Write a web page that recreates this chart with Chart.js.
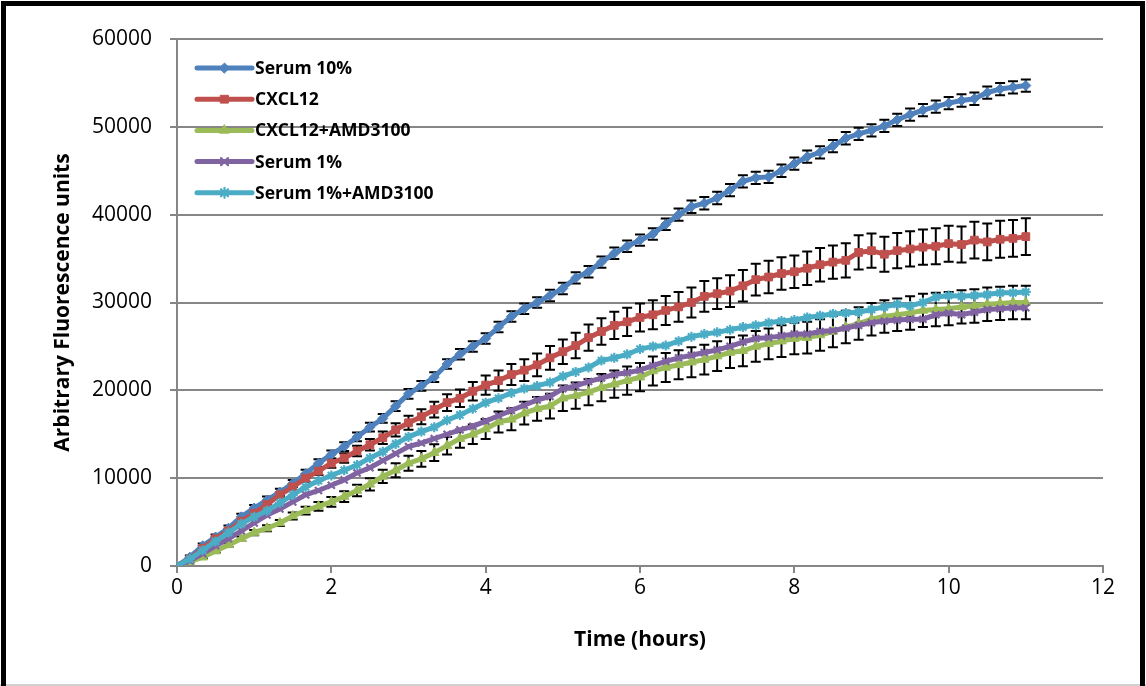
<!DOCTYPE html>
<html>
<head>
<meta charset="utf-8">
<script src="https://cdn.jsdelivr.net/npm/chart.js@4.4.1/dist/chart.umd.min.js"></script>
<style>
  html, body { margin: 0; padding: 0; background: #fff; }
  #wrap { width: 1146px; height: 686px; }
</style>
</head>
<body>
<div id="wrap"><canvas id="fluoChart" width="1146" height="686"></canvas></div>
<script>
// Time points, minutes (one reading every 10 min)
const minutes = [0, 10, 20, 30, 40, 50, 60, 70, 80, 90, 100, 110, 120, 130, 140, 150, 160, 170, 180,
  190, 200, 210, 220, 230, 240, 250, 260, 270, 280, 290, 300, 310, 320, 330, 340, 350, 360,
  370, 380, 390, 400, 410, 420, 430, 440, 450, 460, 470, 480, 490, 500, 510, 520, 530, 540,
  550, 560, 570, 580, 590, 600, 610, 620, 630, 640, 650, 660];

const seriesNames = ['Serum 10%', 'CXCL12', 'CXCL12+AMD3100', 'Serum 1%', 'Serum 1%+AMD3100'];

const serum10 = [0, 1000, 2300, 3300, 4300, 5600, 6600, 7500, 8400, 9400, 10500, 11700, 12700,
  13600, 14700, 15800, 16800, 18200, 19600, 20500, 21500, 23000, 24100, 25000, 25900,
  27200, 28400, 29300, 30000, 30800, 31600, 32800, 33500, 34600, 35600, 36400, 37100,
  37800, 38900, 40000, 40900, 41300, 41900, 42800, 43800, 44200, 44300, 45000, 45800,
  46600, 47100, 47800, 48700, 49200, 49600, 50100, 50800, 51400, 51900, 52300, 52700,
  53000, 53200, 53900, 54300, 54500, 54700];

const cxcl12 = [0, 800, 2000, 3100, 4000, 5100, 6000, 7000, 8100, 9000, 10000, 10800, 11700,
  12300, 13100, 13800, 14600, 15500, 16300, 17000, 17800, 18600, 19100, 19900, 20600,
  21100, 21800, 22300, 22900, 23700, 24400, 25100, 26000, 26700, 27400, 27800, 28300,
  28600, 29100, 29500, 30000, 30700, 31000, 31300, 31900, 32600, 32900, 33300, 33500,
  33900, 34300, 34600, 34800, 35700, 35900, 35500, 35900, 36100, 36300, 36400, 36700,
  36600, 37100, 36900, 37200, 37300, 37500];

const cxcl12Amd = [0, 500, 1000, 1700, 2400, 3100, 3800, 4300, 4900, 5700, 6300, 6800, 7300,
  7900, 8600, 9300, 10200, 10900, 11700, 12200, 12900, 13700, 14500, 15000, 15600,
  16400, 16700, 17400, 17900, 18200, 19100, 19400, 19800, 20300, 20700, 21100, 21500,
  22200, 22600, 22900, 23200, 23500, 23900, 24300, 24500, 25000, 25300, 25600, 25900,
  26000, 26300, 26700, 27200, 27600, 28100, 28400, 28600, 28800, 29100, 29200, 29300,
  29500, 29600, 29800, 29900, 30000, 30000];

const serum1 = [0, 600, 1400, 2300, 3100, 4000, 4900, 5800, 6500, 7300, 8100, 8600, 9200,
  9800, 10600, 11200, 12000, 12800, 13600, 14000, 14500, 15000, 15500, 15900, 16500,
  17100, 17700, 18300, 18900, 19300, 20200, 20500, 21000, 21400, 21800, 22000, 22300,
  22800, 23300, 23700, 24000, 24300, 24600, 25000, 25500, 25900, 26000, 26200, 26400,
  26400, 26700, 26800, 27100, 27400, 27700, 27900, 28000, 28100, 28100, 28600, 28800,
  28600, 28900, 29200, 29300, 29400, 29400];

const serum1Amd = [0, 800, 1800, 2800, 3800, 4800, 5600, 6300, 7200, 8100, 9000, 9700, 10300,
  10900, 11500, 12300, 13000, 13900, 14700, 15300, 15800, 16600, 17200, 17900, 18600,
  19100, 19700, 20200, 20500, 20900, 21600, 22100, 22600, 23400, 23700, 24100, 24700,
  25000, 25100, 25600, 26100, 26400, 26600, 26900, 27200, 27400, 27700, 27900, 28000,
  28300, 28500, 28700, 28800, 28900, 29200, 29500, 29800, 29600, 30000, 30600, 30800,
  30700, 30800, 30900, 31100, 31100, 31200];

// error bars (+/-)
const serum10Err = [0, 200, 250, 300, 300, 350, 350, 400, 400, 400, 450, 450, 450, 500, 500,
  500, 500, 550, 550, 550, 550, 550, 600, 600, 600, 600, 600, 600, 600, 650, 650, 650,
  650, 650, 650, 650, 650, 650, 650, 700, 700, 700, 700, 700, 700, 700, 700, 700, 700,
  700, 700, 700, 700, 700, 700, 700, 700, 700, 700, 700, 700, 700, 700, 700, 700, 700, 700];

const cxcl12Err = [0, 50, 100, 150, 200, 250, 250, 300, 300, 350, 400, 450, 500, 550, 600,
  650, 700, 750, 800, 850, 900, 950, 1000, 1050, 1100, 1150, 1200, 1250, 1300, 1350,
  1400, 1450, 1500, 1500, 1550, 1600, 1600, 1650, 1650, 1700, 1700, 1750, 1750, 1800,
  1800, 1800, 1850, 1850, 1850, 1900, 1900, 1900, 1950, 1950, 1950, 2000, 2000, 2000,
  2000, 2050, 2050, 2050, 2100, 2100, 2100, 2100, 2100];

const cxcl12AmdErr = [0, 50, 100, 150, 200, 250, 300, 350, 350, 400, 450, 500, 550, 600, 650,
  700, 750, 800, 850, 900, 950, 1000, 1050, 1100, 1150, 1200, 1250, 1300, 1350, 1400,
  1450, 1500, 1500, 1550, 1550, 1600, 1600, 1650, 1650, 1650, 1700, 1700, 1700, 1750,
  1750, 1750, 1750, 1800, 1800, 1800, 1800, 1800, 1850, 1850, 1850, 1850, 1850, 1900,
  1900, 1900, 1900, 1900, 1900, 1900, 1900, 1900, 1900];

const colors = ['#4F81BD', '#C0504D', '#9BBB59', '#8064A2', '#4BACC6'];
const markers = ['rectRot', 'rect', 'triangle', 'crossRot', 'star'];
const radii = [5, 5.5, 5.5, 5, 5];
const values = [serum10, cxcl12, cxcl12Amd, serum1, serum1Amd];
const errors = [serum10Err, cxcl12Err, cxcl12AmdErr, null, null];

const FONT = '"Open Sans", "Liberation Sans", sans-serif';

const datasets = seriesNames.map((name, i) => ({
  label: name,
  data: values[i].map((v, k) => ({ x: minutes[k] / 60, y: v })),
  err: errors[i],
  borderColor: colors[i],
  backgroundColor: colors[i],
  borderWidth: 5,
  pointStyle: markers[i],
  pointRadius: radii[i],
  pointBorderWidth: (i >= 3) ? 2.2 : 1,
  pointBorderColor: colors[i],
  pointBackgroundColor: colors[i],
  tension: 0,
  order: 4 - i
}));

// white background + frame
const framePlugin = {
  id: 'frame',
  beforeDraw(chart) {
    const ctx = chart.ctx;
    ctx.save();
    ctx.fillStyle = '#fff';
    ctx.fillRect(0, 0, chart.width, chart.height);
    ctx.restore();
  },
  afterDraw(chart) {
    const ctx = chart.ctx;
    ctx.save();
    ctx.strokeStyle = '#d0d0d0';
    ctx.lineWidth = 2;
    ctx.beginPath();
    ctx.moveTo(0, chart.height - 1);
    ctx.lineTo(chart.width, chart.height - 1);
    ctx.stroke();
    ctx.strokeStyle = '#000';
    ctx.lineWidth = 5;
    ctx.beginPath();
    ctx.moveTo(3.5, chart.height);
    ctx.lineTo(3.5, 3.5);
    ctx.lineTo(chart.width - 3.5, 3.5);
    ctx.lineTo(chart.width - 3.5, chart.height);
    ctx.stroke();
    ctx.restore();
  }
};

// vertical error bars with caps, drawn behind the lines
const errorBarPlugin = {
  id: 'errorBars',
  beforeDatasetsDraw(chart) {
    const ctx = chart.ctx;
    const yScale = chart.scales.y;
    ctx.save();
    ctx.strokeStyle = '#000';
    ctx.lineWidth = 2;
    chart.data.datasets.forEach((ds, i) => {
      if (!ds.err) return;
      const meta = chart.getDatasetMeta(i);
      meta.data.forEach((pt, k) => {
        const e = ds.err[k];
        if (!e) return;
        const v = ds.data[k].y;
        const yTop = yScale.getPixelForValue(v + e);
        const yBot = yScale.getPixelForValue(v - e);
        ctx.beginPath();
        ctx.moveTo(pt.x, yTop);
        ctx.lineTo(pt.x, yBot);
        ctx.moveTo(pt.x - 5, yTop);
        ctx.lineTo(pt.x + 5, yTop);
        ctx.moveTo(pt.x - 5, yBot);
        ctx.lineTo(pt.x + 5, yBot);
        ctx.stroke();
      });
    });
    ctx.restore();
  }
};

// legend inside the plot area, top-left
const insideLegend = {
  id: 'insideLegend',
  afterDraw(chart) {
    const ctx = chart.ctx;
    const area = chart.chartArea;
    ctx.save();
    chart.data.datasets.forEach((ds, i) => {
      const y = area.top + 29 + i * 31.2;
      const x0 = area.left + 20;
      const x1 = area.left + 75;
      ctx.strokeStyle = ds.borderColor;
      ctx.lineWidth = 5;
      ctx.lineCap = 'round';
      ctx.beginPath();
      ctx.moveTo(x0, y);
      ctx.lineTo(x1, y);
      ctx.stroke();
      ctx.lineWidth = ds.pointBorderWidth;
      ctx.fillStyle = ds.backgroundColor;
      Chart.helpers.drawPoint(ctx, {
        pointStyle: ds.pointStyle,
        radius: ds.pointRadius,
        borderWidth: ds.pointBorderWidth,
        rotation: 0
      }, (x0 + x1) / 2, y);
      ctx.fillStyle = '#000';
      ctx.font = 'bold 17.5px ' + FONT;
      ctx.textBaseline = 'middle';
      ctx.textAlign = 'left';
      ctx.fillText(ds.label, x1 + 3, y + 1);
    });
    ctx.restore();
  }
};

new Chart(document.getElementById('fluoChart').getContext('2d'), {
  type: 'line',
  data: { datasets: datasets },
  options: {
    responsive: false,
    animation: false,
    devicePixelRatio: 1,
    layout: { padding: { left: 50, right: 43, top: 39, bottom: 20 } },
    plugins: {
      legend: { display: false },
      tooltip: { enabled: false }
    },
    scales: {
      x: {
        type: 'linear',
        min: 0,
        max: 12,
        ticks: {
          stepSize: 2,
          color: '#000',
          padding: 2,
          font: { family: FONT, size: 21 },
          maxRotation: 0
        },
        grid: { drawOnChartArea: false, color: '#868686', lineWidth: 2, tickLength: 7 },
        border: { color: '#868686', width: 2 },
        title: {
          display: true,
          text: 'Time (hours)',
          color: '#000',
          font: { family: FONT, size: 21, weight: 'bold' },
          padding: { top: 0, bottom: 13 }
        },
        afterFit(scale) { scale.height = 100; }
      },
      y: {
        min: 0,
        max: 60000,
        ticks: {
          stepSize: 10000,
          color: '#000',
          padding: 18,
          font: { family: FONT, size: 21 },
          callback: (v) => String(v)
        },
        grid: { color: '#868686', lineWidth: 2, tickLength: 7 },
        border: { color: '#868686', width: 2 },
        title: {
          display: true,
          text: 'Arbitrary Fluorescence units',
          color: '#000',
          font: { family: FONT, size: 21, weight: 'bold' },
          padding: { top: 0, bottom: 0 }
        },
        afterFit(scale) { scale.width = 127; }
      }
    }
  },
  plugins: [framePlugin, errorBarPlugin, insideLegend]
});
</script>
</body>
</html>
